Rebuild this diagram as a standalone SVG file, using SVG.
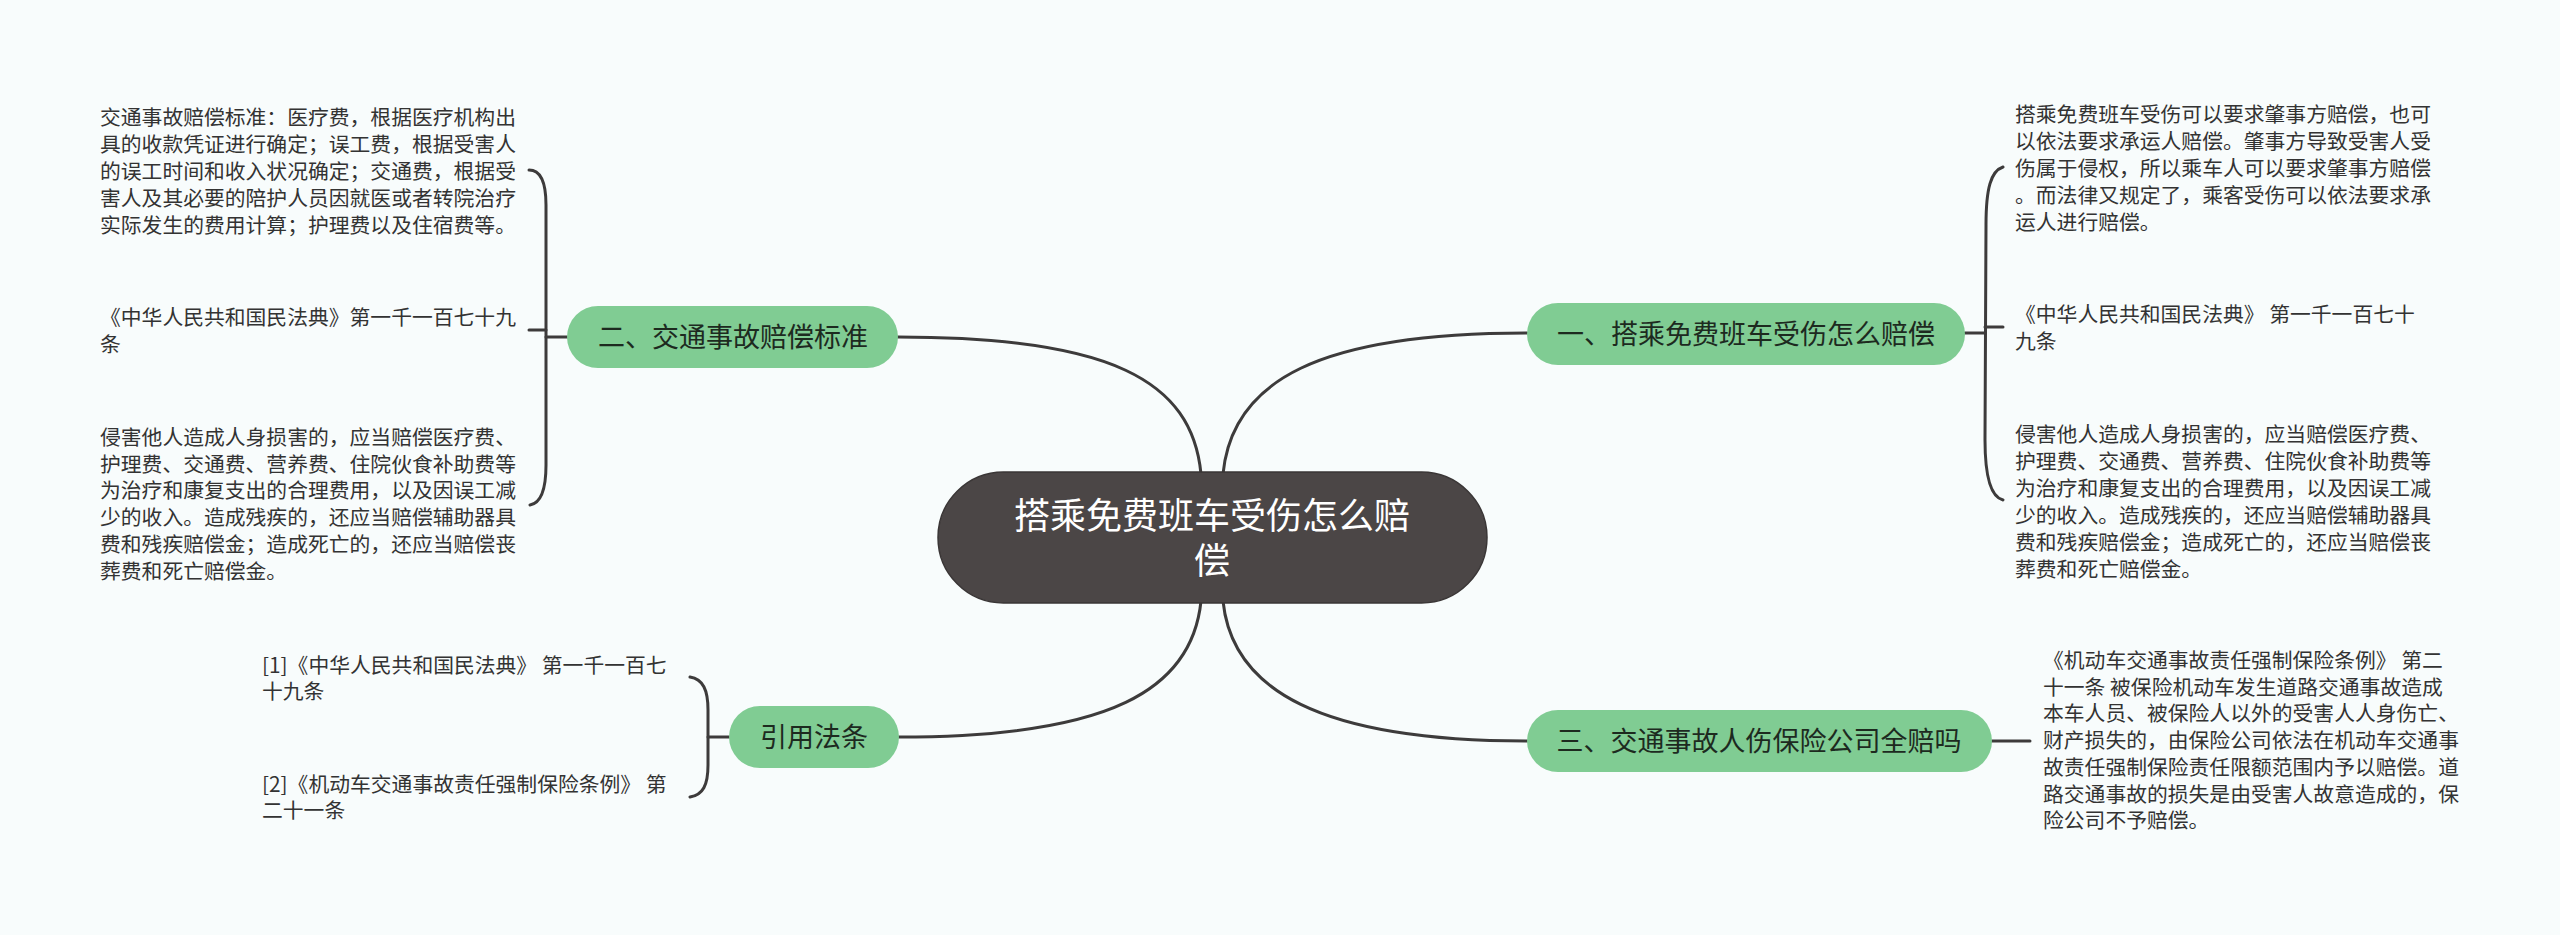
<svg xmlns="http://www.w3.org/2000/svg" width="2560" height="935" viewBox="0 0 2560 935">
<style>
.leaf{font-family:"Noto Sans CJK SC","Noto Sans",sans-serif;font-size:20.8px;fill:#333}
.pill{fill:#80cc93}
.ptxt{font-family:"Noto Sans CJK SC","Noto Sans",sans-serif;font-size:27px;fill:#1d2a1f;text-anchor:middle}
.ctxt{font-family:"Noto Sans CJK SC","Noto Sans",sans-serif;font-size:36px;fill:#ffffff;text-anchor:middle}
.conn path{fill:none;stroke:#3d3b3b;stroke-width:3;stroke-linecap:round}
</style>
<rect width="2560" height="935" fill="#f8fcfc"/>
<g class="conn" id="connectors">
<path d="M1201 474 C1192 380 1110 337 898 337"/>
<path d="M1223 474 C1232 380 1320 333 1527 333"/>
<path d="M1201 601 C1192 690 1110 737 899 737"/>
<path d="M1223 601 C1232 690 1320 741 1527 741"/>
<path d="M529 170 C541 170 546 182 546 205 L546 465 C546 488 542 503 530 505"/>
<path d="M529 330 L546 330 M546 337 L567 337"/>
<path d="M2003 167 C1991 171 1986 188 1986 225 L1985 440 C1985 478 1991 497 2003 500"/>
<path d="M2003 327 L1985 327 M1965 333 L1985 333"/>
<path d="M1992 741 L2030 741"/>
<path d="M690 677 C703 679 708 690 708 710 L708 765 C708 785 703 795 690 797"/>
<path d="M708 737 L729 737"/>
</g>
<g id="center">
<rect x="938" y="472" width="549" height="131" rx="65.5" fill="#4b4646" stroke="#3a3636" stroke-width="1.5"/>
<text class="ctxt" x="1212" y="529"><tspan x="1212">搭乘免费班车受伤怎么赔</tspan><tspan x="1212" dy="45">偿</tspan></text>
</g>
<g id="node-2">
<rect class="pill" x="567" y="306" width="331" height="62" rx="31"/>
<text class="ptxt" x="733" y="347">二、交通事故赔偿标准</text>
</g>
<g id="node-1">
<rect class="pill" x="1527" y="303" width="438" height="62" rx="31"/>
<text class="ptxt" x="1746" y="344">一、搭乘免费班车受伤怎么赔偿</text>
</g>
<g id="node-3">
<rect class="pill" x="1527" y="710" width="465" height="62" rx="31"/>
<text class="ptxt" x="1759" y="751">三、交通事故人伤保险公司全赔吗</text>
</g>
<g id="node-ref">
<rect class="pill" x="729" y="706" width="170" height="62" rx="31"/>
<text class="ptxt" x="814" y="747">引用法条</text>
</g>
<g id="leaf-2a">
<text class="leaf" x="100" y="125"><tspan x="100">交通事故赔偿标准：医疗费，根据医疗机构出</tspan><tspan x="100" dy="27">具的收款凭证进行确定；误工费，根据受害人</tspan><tspan x="100" dy="27">的误工时间和收入状况确定；交通费，根据受</tspan><tspan x="100" dy="27">害人及其必要的陪护人员因就医或者转院治疗</tspan><tspan x="100" dy="27">实际发生的费用计算；护理费以及住宿费等。</tspan></text>
</g>
<g id="leaf-2b">
<text class="leaf" x="100" y="325"><tspan x="100">《中华人民共和国民法典》第一千一百七十九</tspan><tspan x="100" dy="26.7">条</tspan></text>
</g>
<g id="leaf-2c">
<text class="leaf" x="100" y="445"><tspan x="100">侵害他人造成人身损害的，应当赔偿医疗费、</tspan><tspan x="100" dy="26.7">护理费、交通费、营养费、住院伙食补助费等</tspan><tspan x="100" dy="26.7">为治疗和康复支出的合理费用，以及因误工减</tspan><tspan x="100" dy="26.7">少的收入。造成残疾的，还应当赔偿辅助器具</tspan><tspan x="100" dy="26.7">费和残疾赔偿金；造成死亡的，还应当赔偿丧</tspan><tspan x="100" dy="26.7">葬费和死亡赔偿金。</tspan></text>
</g>
<g id="leaf-1a">
<text class="leaf" x="2015" y="122"><tspan x="2015">搭乘免费班车受伤可以要求肇事方赔偿，也可</tspan><tspan x="2015" dy="27">以依法要求承运人赔偿。肇事方导致受害人受</tspan><tspan x="2015" dy="27">伤属于侵权，所以乘车人可以要求肇事方赔偿</tspan><tspan x="2015" dy="27">。而法律又规定了，乘客受伤可以依法要求承</tspan><tspan x="2015" dy="27">运人进行赔偿。</tspan></text>
</g>
<g id="leaf-1b">
<text class="leaf" x="2015" y="322"><tspan x="2015">《中华人民共和国民法典》 第一千一百七十</tspan><tspan x="2015" dy="26.7">九条</tspan></text>
</g>
<g id="leaf-1c">
<text class="leaf" x="2015" y="442"><tspan x="2015">侵害他人造成人身损害的，应当赔偿医疗费、</tspan><tspan x="2015" dy="27">护理费、交通费、营养费、住院伙食补助费等</tspan><tspan x="2015" dy="27">为治疗和康复支出的合理费用，以及因误工减</tspan><tspan x="2015" dy="27">少的收入。造成残疾的，还应当赔偿辅助器具</tspan><tspan x="2015" dy="27">费和残疾赔偿金；造成死亡的，还应当赔偿丧</tspan><tspan x="2015" dy="27">葬费和死亡赔偿金。</tspan></text>
</g>
<g id="leaf-3a">
<text class="leaf" x="2043" y="668"><tspan x="2043">《机动车交通事故责任强制保险条例》 第二</tspan><tspan x="2043" dy="26.7">十一条 被保险机动车发生道路交通事故造成</tspan><tspan x="2043" dy="26.7">本车人员、被保险人以外的受害人人身伤亡、</tspan><tspan x="2043" dy="26.7">财产损失的，由保险公司依法在机动车交通事</tspan><tspan x="2043" dy="26.7">故责任强制保险责任限额范围内予以赔偿。道</tspan><tspan x="2043" dy="26.7">路交通事故的损失是由受害人故意造成的，保</tspan><tspan x="2043" dy="26.7">险公司不予赔偿。</tspan></text>
</g>
<g id="leaf-ref1">
<text class="leaf" x="262" y="673"><tspan x="262">[1]《中华人民共和国民法典》 第一千一百七</tspan><tspan x="262" dy="26">十九条</tspan></text>
</g>
<g id="leaf-ref2">
<text class="leaf" x="262" y="792"><tspan x="262">[2]《机动车交通事故责任强制保险条例》 第</tspan><tspan x="262" dy="26">二十一条</tspan></text>
</g>
</svg>
